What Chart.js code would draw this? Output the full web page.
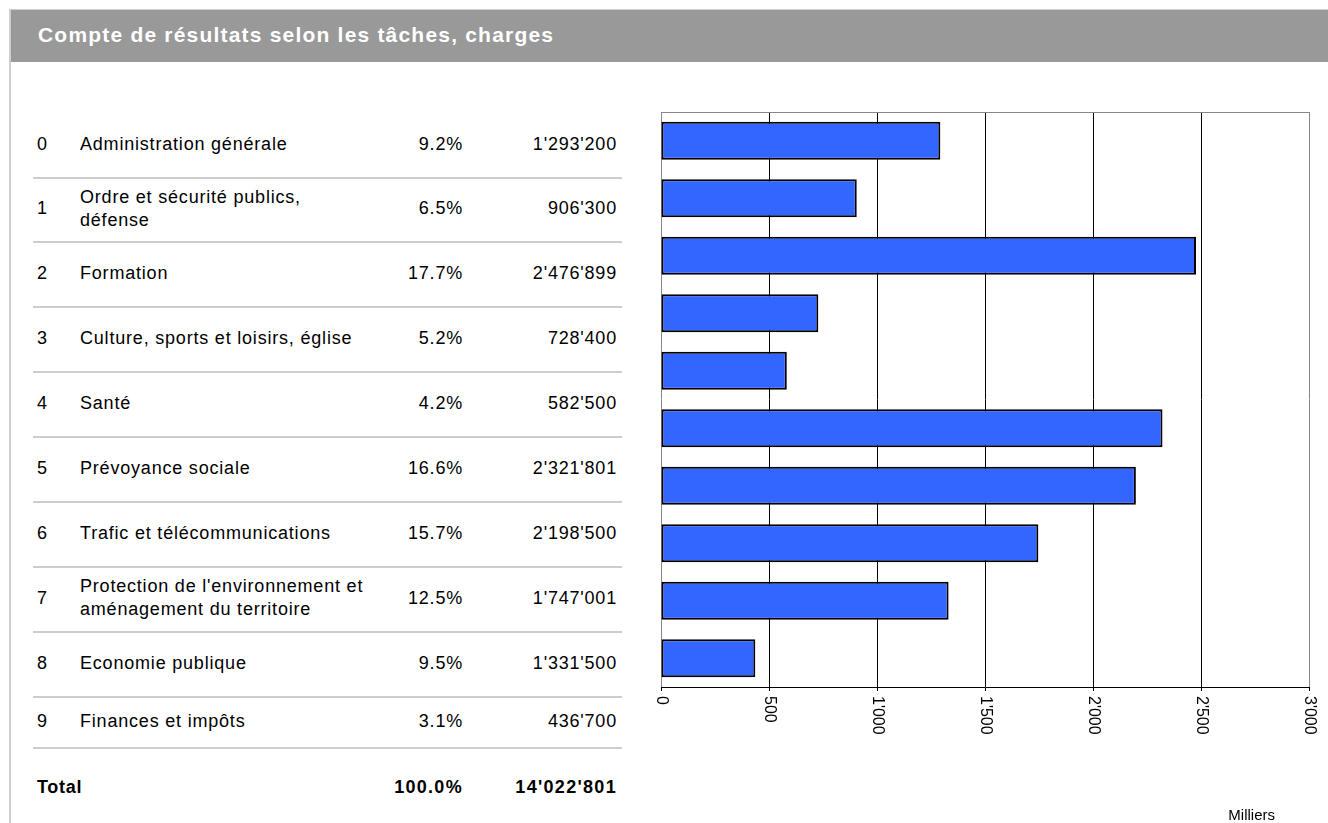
<!DOCTYPE html>
<html>
<head>
<meta charset="utf-8">
<script src="https://cdn.jsdelivr.net/npm/chart.js@4/dist/chart.umd.min.js"></script>
<style>
    html, body { margin: 0; padding: 0; background: #fff; }
    body { width: 1328px; height: 823px; position: relative; overflow: hidden;
           font-family: "Liberation Sans", Arial, sans-serif; color: #000; }
    .frame { position: absolute; left: 9px; top: 9px; width: 1330px; height: 830px;
             border-left: 2px solid #cfcfcf; border-top: 1px solid #cfcfcf; }
    .titlebar { position: absolute; left: 11px; top: 10px; width: 1317px; height: 52px;
                background: #999999; }
    .titlebar span { position: absolute; left: 27px; top: 13px; color: #fff;
                     font-weight: bold; font-size: 21px; letter-spacing: 1.2px; }
    .row { position: absolute; left: 0; width: 640px; }
    .row .sep { position: absolute; left: 33px; width: 589px; bottom: 0; height: 2px;
                background: #cdcdcd; }
    .row .cell { position: absolute; top: 0; bottom: 4px; display: flex; align-items: center;
                 font-size: 18px; letter-spacing: 0.8px; line-height: 23px; white-space: pre-line; }
    .code { left: 37px; }
    .label { left: 80px; width: 300px; }
    .pct { left: 360px; width: 103px; justify-content: flex-end; }
    .amt { left: 480px; width: 137px; justify-content: flex-end; }
    .total .cell { font-weight: bold; letter-spacing: 1.3px; font-size: 18px; }
    .total .code { letter-spacing: 0.7px; }
    #chartBox { position: absolute; left: 640px; top: 90px; width: 688px; height: 733px; }
</style>
</head>
<body>
<div class="frame"></div>
<div class="titlebar"><span>Compte de résultats selon les tâches, charges</span></div>
<div id="table"></div>
<div id="chartBox"><canvas id="chart"></canvas></div>

<script>
const codes = ["0", "1", "2", "3", "4", "5", "6", "7", "8", "9"];
const labels = [
    "Administration générale",
    "Ordre et sécurité publics,\ndéfense",
    "Formation",
    "Culture, sports et loisirs, église",
    "Santé",
    "Prévoyance sociale",
    "Trafic et télécommunications",
    "Protection de l'environnement et\naménagement du territoire",
    "Economie publique",
    "Finances et impôts",
];
const shares = ["9.2%", "6.5%", "17.7%", "5.2%", "4.2%", "16.6%", "15.7%", "12.5%", "9.5%", "3.1%"];
const amounts = [1293200, 906300, 2476899, 728400, 582500, 2321801, 2198500, 1747001, 1331500, 436700];
const totalShare = "100.0%";
const totalAmount = "14'022'801";
const tickLabels = ["0", "500", "1'000", "1'500", "2'000", "2'500", "3'000"];
const unitLabel = "Milliers";

function swiss(n) {
    return String(n).replace(/\B(?=(\d{3})+(?!\d))/g, "'");
}

// left-hand table
const table = document.getElementById("table");
const rowTops = [113, 178, 242, 307, 372, 437, 502, 567, 632, 697];
const rowBottoms = [178, 242, 307, 372, 437, 502, 567, 632, 697, 748];
codes.forEach((code, i) => {
    const row = document.createElement("div");
    row.className = "row";
    row.style.top = rowTops[i] + "px";
    row.style.height = (rowBottoms[i] - rowTops[i] + 1) + "px";
    row.innerHTML =
        '<div class="cell code">' + code + "</div>" +
        '<div class="cell label">' + labels[i] + "</div>" +
        '<div class="cell pct">' + shares[i] + "</div>" +
        '<div class="cell amt">' + swiss(amounts[i]) + "</div>" +
        '<div class="sep"></div>';
    table.appendChild(row);
});
const total = document.createElement("div");
total.className = "row total";
total.style.top = "770px";
total.style.height = "38px";
total.innerHTML =
    '<div class="cell code">Total</div>' +
    '<div class="cell pct">' + totalShare + "</div>" +
    '<div class="cell amt">' + totalAmount + "</div>";
table.appendChild(total);

// frame top line + rotated tick labels + unit
const decorPlugin = {
    id: "decor",
    afterDraw(chart) {
        const { ctx, chartArea } = chart;
        const sc = chart.scales.x;
        ctx.save();
        ctx.strokeStyle = "#888";
        ctx.lineWidth = 1;
        ctx.beginPath();
        ctx.moveTo(chartArea.left, chartArea.top + 0.5);
        ctx.lineTo(chartArea.right, chartArea.top + 0.5);
        ctx.stroke();

        ctx.fillStyle = "#000";
        ctx.font = '16px "Liberation Sans", Arial, sans-serif';
        ctx.textAlign = "left";
        ctx.textBaseline = "middle";
        sc.ticks.forEach((t, i) => {
            const x = sc.getPixelForValue(t.value);
            ctx.save();
            ctx.translate(x, chartArea.bottom + 9);
            ctx.rotate(Math.PI / 2);
            ctx.fillText(tickLabels[i], 0, 0);
            ctx.restore();
        });

        ctx.font = '15px "Liberation Sans", Arial, sans-serif';
        ctx.textAlign = "right";
        ctx.fillText(unitLabel, chartArea.right - 34, chart.height - 7);
        ctx.restore();
    },
};

const edgeColor = (c) => (c.tick && (c.tick.value === 0 || c.tick.value === 3000) ? "#888" : "#000");

new Chart(document.getElementById("chart"), {
    type: "bar",
    data: {
        labels: codes,
        datasets: [{
            data: amounts.map((v) => v / 1000),
            backgroundColor: "#3366ff",
            borderColor: "#000",
            borderWidth: 2,
            borderSkipped: false,
            barPercentage: 0.66,
            categoryPercentage: 1,
        }],
    },
    options: {
        indexAxis: "y",
        responsive: true,
        maintainAspectRatio: false,
        animation: false,
        layout: { padding: { left: 21, top: 22, right: 19, bottom: 132 } },
        plugins: { legend: { display: false }, tooltip: { enabled: false } },
        scales: {
            x: {
                min: 0,
                max: 3000,
                ticks: { stepSize: 500, display: false },
                grid: { color: edgeColor, tickColor: "#000", tickLength: 4, lineWidth: 1 },
                border: { color: "#000", width: 1 },
            },
            y: { display: false },
        },
    },
    plugins: [decorPlugin],
});
</script>
</body>
</html>
